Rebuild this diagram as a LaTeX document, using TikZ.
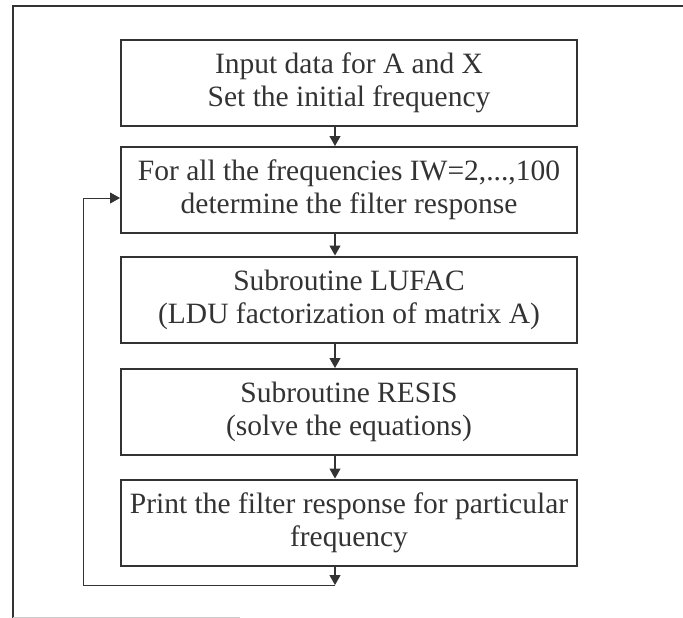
\documentclass[tikz,border=0pt]{standalone}
\usepackage{fontspec}
\setmainfont{Liberation Serif}
\usetikzlibrary{arrows.meta}
\definecolor{ink}{HTML}{333333}
\begin{document}
\begin{tikzpicture}[x=1pt,y=-1pt,
  stepbox/.style={draw=ink, line width=2pt, minimum width=456pt, minimum height=86pt,
    inner sep=0pt, align=center, font=\fontsize{29.5}{33}\selectfont, text=ink},
  flow/.style={draw=ink, line width=1.2pt, -{Triangle[width=11pt,length=10pt]}},
  loopline/.style={draw=ink, line width=1pt}]
\useasboundingbox (0,0) rectangle (683,618);
\draw[ink, line width=2pt] (13,618) -- (13,6) -- (683,6);
\draw[gray!40, line width=1pt] (13,617) -- (240,617);
\node[stepbox] (b1) at (349,83) {Input data for A and X\\Set the initial frequency};
\node[stepbox] (b2) at (349,190) {For all the frequencies IW=2,...,100\\determine the filter response};
\node[stepbox] (b3) at (349,299.5) {Subroutine LUFAC\\(LDU factorization of matrix A)};
\node[stepbox] (b4) at (349,412) {Subroutine RESIS\\(solve the equations)};
\node[stepbox] (b5) at (349,522.5) {Print the filter response for particular\\frequency};
\coordinate (end) at (335,585);
\coordinate (c1) at (83,585);
\coordinate (c2) at (83,198);
\draw[flow] ([xshift=-14pt]b1.south) -- ([xshift=-14pt]b2.north);
\draw[flow] ([xshift=-14pt]b2.south) -- ([xshift=-14pt]b3.north);
\draw[flow] ([xshift=-14pt]b3.south) -- ([xshift=-14pt]b4.north);
\draw[flow] ([xshift=-14pt]b4.south) -- ([xshift=-14pt]b5.north);
\draw[flow] ([xshift=-14pt]b5.south) -- (end);
\draw[loopline] (end) -- (c1) -- (c2);
\draw[flow, line width=1pt] (c2) -- (c2 -| b2.west);
\end{tikzpicture}
\end{document}
